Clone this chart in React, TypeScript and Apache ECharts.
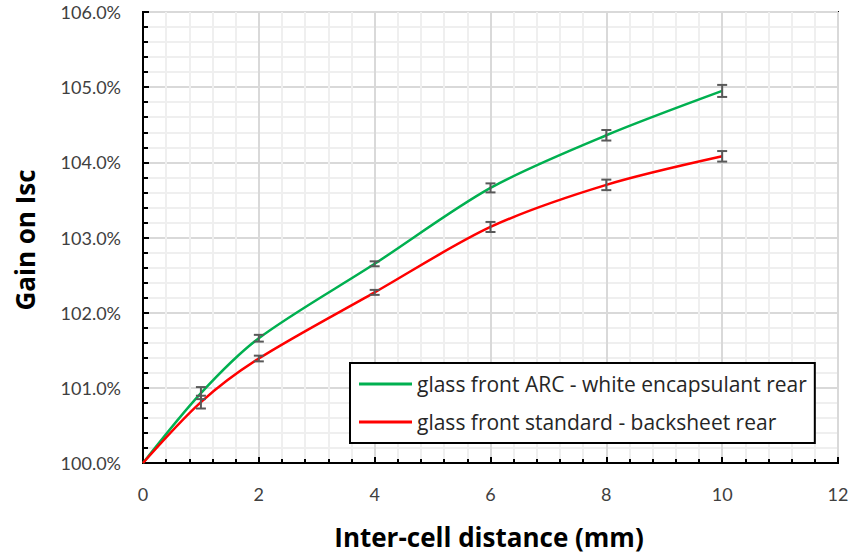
import React, { useEffect, useRef } from "react";
import * as echarts from "echarts";

const distances = [0, 1, 2, 4, 6, 8, 10];
const arcWhiteGain = [100, 100.93, 101.66, 102.65, 103.66, 104.36, 104.95];
const arcWhiteErr = [0, 0.08, 0.045, 0.033, 0.06, 0.07, 0.08];
const stdBackGain = [100, 100.81, 101.39, 102.27, 103.14, 103.7, 104.08];
const stdBackErr = [0, 0.085, 0.038, 0.033, 0.067, 0.07, 0.07];

const seriesNames = [
  "glass front ARC - white encapsulant rear",
  "glass front standard - backsheet rear",
];
const xTitle = "Inter-cell distance (mm)";
const yTitle = "Gain on Isc";

const FONT = "Lato, 'Open Sans', sans-serif";
const FONT2 = "'Open Sans', sans-serif";

function errData(vals: number[], errs: number[]) {
  return distances
    .map((d, i) => [d, vals[i] - errs[i], vals[i] + errs[i]])
    .filter((_, i) => errs[i] > 0);
}

function errRender(params: any, api: any) {
  const x = api.value(0);
  const lo = api.coord([x, api.value(1)]);
  const hi = api.coord([x, api.value(2)]);
  const hw = 5;
  const style = { stroke: "#595959", lineWidth: 2 };
  return {
    type: "group",
    children: [
      { type: "line", shape: { x1: lo[0], y1: lo[1], x2: hi[0], y2: hi[1] }, style },
      { type: "line", shape: { x1: lo[0] - hw, y1: lo[1], x2: lo[0] + hw, y2: lo[1] }, style },
      { type: "line", shape: { x1: hi[0] - hw, y1: hi[1], x2: hi[0] + hw, y2: hi[1] }, style },
    ],
  };
}

export default function App() {
  const ref = useRef<HTMLDivElement>(null);
  useEffect(() => {
    if (!ref.current) return;
    const chart = echarts.init(ref.current, null, { renderer: "svg" });
    chart.setOption({
      animation: false,
      backgroundColor: "#ffffff",
      grid: {
        left: 143,
        top: 12,
        right: 15,
        bottom: 93,
        show: true,
        borderColor: "#000",
        borderWidth: 2,
        backgroundColor: "transparent",
      },
      xAxis: {
        type: "value",
        min: 0,
        max: 12,
        interval: 2,
        axisLine: { show: true, lineStyle: { color: "#000", width: 2 } },
        axisTick: { show: true, inside: true, length: 6, lineStyle: { color: "#000", width: 2 } },
        minorTick: { show: true, splitNumber: 5, length: 4, lineStyle: { color: "#000", width: 2 } },
        splitLine: { show: true, lineStyle: { color: "#d9d9d9", width: 2 } },
        minorSplitLine: { show: true, lineStyle: { color: "#efefef", width: 2 } },
        axisLabel: { color: "#404040", fontFamily: FONT, fontSize: 18, margin: 22 },
      },
      yAxis: {
        type: "value",
        min: 100,
        max: 106,
        interval: 1,
        axisLine: { show: true, lineStyle: { color: "#000", width: 2 } },
        axisTick: { show: true, inside: true, length: 6, lineStyle: { color: "#000", width: 2 } },
        minorTick: { show: true, splitNumber: 5, length: 5, lineStyle: { color: "#000", width: 2 } },
        splitLine: { show: true, lineStyle: { color: "#d9d9d9", width: 2 } },
        minorSplitLine: { show: true, lineStyle: { color: "#efefef", width: 2 } },
        axisLabel: {
          color: "#404040",
          fontFamily: FONT,
          fontSize: 18,
          margin: 22,
          formatter: (v: number) => v.toFixed(1) + "%",
        },
      },
      legend: {
        orient: "vertical",
        left: 350,
        top: 363,
        width: 463,
        padding: [8, 8, 8, 9],
        itemGap: 12,
        itemWidth: 53,
        itemHeight: 3,
        icon: "rect",
        backgroundColor: "#fff",
        borderColor: "#000",
        borderWidth: 2,
        textStyle: { color: "#262626", fontFamily: FONT2, fontSize: 21, lineHeight: 26, padding: [0, 0, 0, 0] },
        data: seriesNames,
      },
      graphic: [
        {
          type: "text",
          x: 25,
          y: 240,
          rotation: Math.PI / 2,
          style: {
            text: yTitle,
            fill: "#000",
            font: `bold 26px ${FONT2}`,
            align: "center",
            verticalAlign: "middle",
          },
        },
        {
          type: "text",
          x: 489,
          y: 537,
          style: {
            text: xTitle,
            fill: "#000",
            font: `bold 26px ${FONT2}`,
            align: "center",
            verticalAlign: "middle",
          },
        },
      ],
      series: [
        {
          name: seriesNames[0],
          type: "line",
          smooth: 0.3,
          showSymbol: false,
          color: "#00b050",
          lineStyle: { width: 2.5, color: "#00b050" },
          data: distances.map((d, i) => [d, arcWhiteGain[i]]),
          z: 3,
        },
        {
          name: seriesNames[1],
          type: "line",
          smooth: 0.3,
          showSymbol: false,
          color: "#ff0000",
          lineStyle: { width: 2.5, color: "#ff0000" },
          data: distances.map((d, i) => [d, stdBackGain[i]]),
          z: 3,
        },
        {
          type: "custom",
          renderItem: errRender,
          encode: { x: 0, y: [1, 2] },
          data: errData(arcWhiteGain, arcWhiteErr),
          z: 4,
        },
        {
          type: "custom",
          renderItem: errRender,
          encode: { x: 0, y: [1, 2] },
          data: errData(stdBackGain, stdBackErr),
          z: 4,
        },
      ],
    });
    return () => chart.dispose();
  }, []);
  return (
    <div
      ref={ref}
      style={{ position: "fixed", left: 0, top: 0, width: 853, height: 556, background: "#fff" }}
    />
  );
}
